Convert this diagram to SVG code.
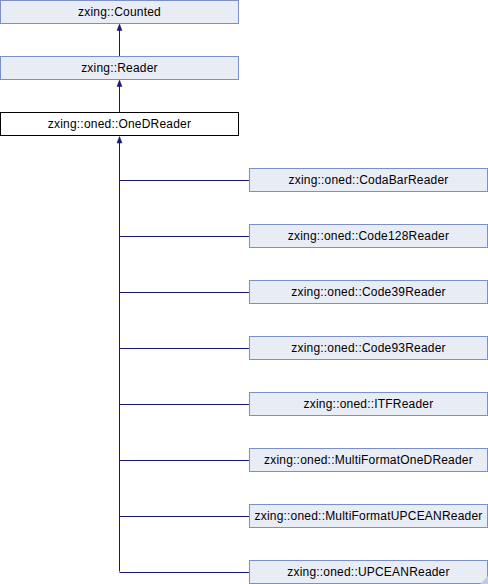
<svg xmlns="http://www.w3.org/2000/svg" width="488" height="584" viewBox="0 0 488 584">
<defs>
<style>
.box{fill:#e8ecf5;stroke:#7d8fc8;stroke-width:1}
.cur{fill:#ffffff;stroke:#000000;stroke-width:1}
.lbl{font-family:"Liberation Sans",Arial,sans-serif;font-size:12px;fill:#000;text-anchor:middle;letter-spacing:0.2px}
.edge{fill:none;stroke:#191970;stroke-width:1}
.head{fill:#191970;stroke:#191970;stroke-width:0.5}
</style>
</defs>
<rect width="488" height="584" fill="#ffffff"/>
<g id="connectors">
<path class="edge" d="M119.5,56 V26"/>
<path class="edge" d="M119.5,112 V82"/>
<path class="edge" d="M119.5,571.5 V138"/>
<path class="edge" d="M249,180.5 H119.5"/>
<path class="edge" d="M249,236.5 H119.5"/>
<path class="edge" d="M249,292.5 H119.5"/>
<path class="edge" d="M249,348.5 H119.5"/>
<path class="edge" d="M249,404.5 H119.5"/>
<path class="edge" d="M249,460.5 H119.5"/>
<path class="edge" d="M249,516.5 H119.5"/>
<path class="edge" d="M249,572.5 H119.5"/>
<path class="head" d="M119.5,24 L122,30.5 L117,30.5 Z"/>
<path class="head" d="M119.5,80 L122,86.5 L117,86.5 Z"/>
<path class="head" d="M119.5,136.5 L122,143 L117,143 Z"/>
</g>
<g id="n_counted"><rect class="box" x="0.5" y="0.5" width="238" height="23"/><text class="lbl" x="119.5" y="16">zxing::Counted</text></g>
<g id="n_reader"><rect class="box" x="0.5" y="56.5" width="238" height="23"/><text class="lbl" x="119.5" y="72">zxing::Reader</text></g>
<g id="n_onedreader"><rect class="cur" x="0.5" y="112.5" width="238" height="23"/><text class="lbl" x="119.5" y="128">zxing::oned::OneDReader</text></g>
<g id="n_codabar"><rect class="box" x="249.5" y="168.5" width="238" height="23"/><text class="lbl" x="368.5" y="184">zxing::oned::CodaBarReader</text></g>
<g id="n_code128"><rect class="box" x="249.5" y="224.5" width="238" height="23"/><text class="lbl" x="368.5" y="240">zxing::oned::Code128Reader</text></g>
<g id="n_code39"><rect class="box" x="249.5" y="280.5" width="238" height="23"/><text class="lbl" x="368.5" y="296">zxing::oned::Code39Reader</text></g>
<g id="n_code93"><rect class="box" x="249.5" y="336.5" width="238" height="23"/><text class="lbl" x="368.5" y="352">zxing::oned::Code93Reader</text></g>
<g id="n_itf"><rect class="box" x="249.5" y="392.5" width="238" height="23"/><text class="lbl" x="368.5" y="408">zxing::oned::ITFReader</text></g>
<g id="n_multioned"><rect class="box" x="249.5" y="448.5" width="238" height="23"/><text class="lbl" x="368.5" y="464">zxing::oned::MultiFormatOneDReader</text></g>
<g id="n_multiupcean"><rect class="box" x="249.5" y="504.5" width="238" height="23"/><text class="lbl" x="368.5" y="520">zxing::oned::MultiFormatUPCEANReader</text></g>
<g id="n_upcean"><rect class="box" x="249.5" y="560.5" width="238" height="23"/><text class="lbl" x="368.5" y="576">zxing::oned::UPCEANReader</text><path d="M488,576 L488,584 L480,584 Z" fill="#c4cbe0"/></g>
</svg>
